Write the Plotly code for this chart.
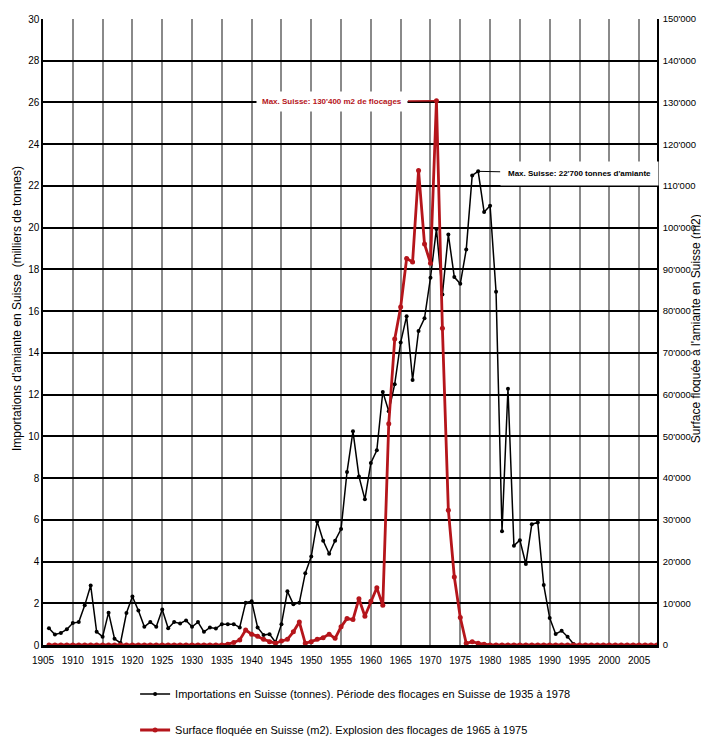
import plotly.graph_objects as go

# ---- data ----
import_years = list(range(1906, 1995))
imports_kt = [
    0.80, 0.50, 0.58, 0.75, 1.05, 1.10, 1.90, 2.85, 0.63, 0.40,   # 1906-1915
    1.55, 0.30, 0.10, 1.53, 2.32, 1.65, 0.87, 1.10, 0.87, 1.70,   # 1916-1925
    0.80, 1.10, 1.03, 1.18, 0.87, 1.10, 0.63, 0.84, 0.79, 1.00,   # 1926-1935
    1.00, 1.00, 0.84, 2.03, 2.10, 0.84, 0.48, 0.52, 0.13, 1.00,   # 1936-1945
    2.57, 1.95, 2.03, 3.44, 4.24, 5.92, 5.00, 4.37, 5.00, 5.56,   # 1946-1955
    8.29, 10.24, 8.08, 6.98, 8.72, 9.33, 12.13, 11.20, 12.50, 14.50,  # 1956-1965
    15.76, 12.70, 15.05, 15.66, 17.60, 19.94, 16.80, 19.67, 17.63, 17.31,  # 1966-1975
    18.95, 22.50, 22.70, 20.75, 21.05, 16.93, 5.45, 12.28, 4.76, 5.02,  # 1976-1985
    3.88, 5.79, 5.87, 2.87, 1.29, 0.53, 0.68, 0.40, 0.05,          # 1986-1994
]

surface_years = list(range(1906, 2009))
surface_m2 = (
    [0] * 30 +                                                     # 1906-1935
    [200, 600, 1200, 3600, 2600, 2100, 1350, 800, 400, 950,        # 1936-1945
     1350, 3150, 5500, 400, 800, 1350, 1750, 2600, 1600, 4350,     # 1946-1955
     6350, 6100, 11100, 6900, 10500, 13700, 9500, 53000, 73300, 81000,  # 1956-1965
     92600, 91800, 113700, 96100, 91500, 130400, 75900, 32300, 16300, 6600,  # 1966-1975
     400, 800, 400, 150] +                                         # 1976-1979
    [0] * 29                                                       # 1980-2008
)

x_ticks = list(range(1905, 2010, 5))
left_ticks = list(range(0, 31, 2))
right_ticks = list(range(0, 150001, 10000))
right_ticktext = [f"{v:,}".replace(",", "'") for v in right_ticks]

RED = "#b5151b"
FONT = "Liberation Sans, Arial, sans-serif"

fig = go.Figure()
fig.add_trace(go.Scatter(
    x=import_years, y=imports_kt, mode="lines+markers",
    line=dict(color="black", width=1.5), marker=dict(color="black", size=4),
    name="Importations en Suisse (tonnes). Période des flocages en Suisse de 1935 à 1978",
    legend="legend", yaxis="y",
))
fig.add_trace(go.Scatter(
    x=surface_years, y=surface_m2, mode="lines+markers",
    line=dict(color=RED, width=2.8), marker=dict(color=RED, size=5),
    name="Surface floquée en Suisse (m2). Explosion des flocages de 1965 à 1975",
    legend="legend2", yaxis="y2",
))

fig.add_annotation(
    x=1971, y=130400, xref="x", yref="y2", ax=-104, ay=1,
    text="<b>Max. Suisse: 130'400 m2 de flocages</b>", showarrow=True,
    arrowhead=0, arrowwidth=1.5, arrowcolor=RED,
    font=dict(family=FONT, size=8, color=RED),
    bgcolor="white", borderpad=5,
)
fig.add_annotation(
    x=1978, y=22.7, xref="x", yref="y", ax=101, ay=2,
    text="<b>Max. Suisse: 22'700 tonnes d'amiante</b>", showarrow=True,
    arrowhead=0, arrowwidth=1, arrowcolor="black",
    font=dict(family=FONT, size=8, color="black"),
    bgcolor="white", borderpad=7,
)
# axis titles
fig.add_annotation(
    x=-0.0423, y=0.5367, xref="paper", yref="paper", showarrow=False,
    xanchor="center", yanchor="middle",
    text="Importations d'amiante en Suisse  (milliers de tonnes)", textangle=-90,
    font=dict(family=FONT, size=12, color="black"),
)
fig.add_annotation(
    x=1.064, y=0.5048, xref="paper", yref="paper", showarrow=False,
    xanchor="center", yanchor="middle",
    text="Surface floquée à l'amiante en Suisse (m2)", textangle=-90,
    font=dict(family=FONT, size=12, color="black"),
)

fig.update_layout(
    width=701, height=730,
    margin=dict(l=35, r=52, t=11, b=93, autoexpand=False),
    paper_bgcolor="white", plot_bgcolor="white",
    font=dict(family=FONT, size=10, color="black"),
    xaxis=dict(
        range=[1905, 2008], tickvals=x_ticks, ticktext=[str(v) for v in x_ticks],
        showgrid=True, gridcolor="#8a8a8a", gridwidth=1.5,
        showline=True, linecolor="black", linewidth=2.5, zeroline=False,
        ticks="", tickfont=dict(family=FONT, size=10), ticklabelstandoff=4,
    ),
    yaxis=dict(
        range=[0, 30], tickvals=left_ticks, ticktext=[str(v) for v in left_ticks],
        showgrid=True, gridcolor="black", gridwidth=2, zeroline=False,
        showline=True, linecolor="black", linewidth=1.5, ticks="",
        tickfont=dict(family=FONT, size=10),
    ),
    yaxis2=dict(
        range=[0, 150000], overlaying="y", side="right",
        tickvals=right_ticks, ticktext=right_ticktext,
        showgrid=False, zeroline=False, showline=True, linecolor="black",
        linewidth=1.5, ticks="", tickfont=dict(family=FONT, size=9.5),
        ticklabelstandoff=2,
    ),
    legend=dict(x=0.15, y=-0.0783, xanchor="left", yanchor="middle",
                font=dict(family=FONT, size=11), bgcolor="rgba(0,0,0,0)"),
    legend2=dict(x=0.15, y=-0.1358, xanchor="left", yanchor="middle",
                 font=dict(family=FONT, size=11), bgcolor="rgba(0,0,0,0)"),
    showlegend=True,
)

fig.write_html("out.html")
